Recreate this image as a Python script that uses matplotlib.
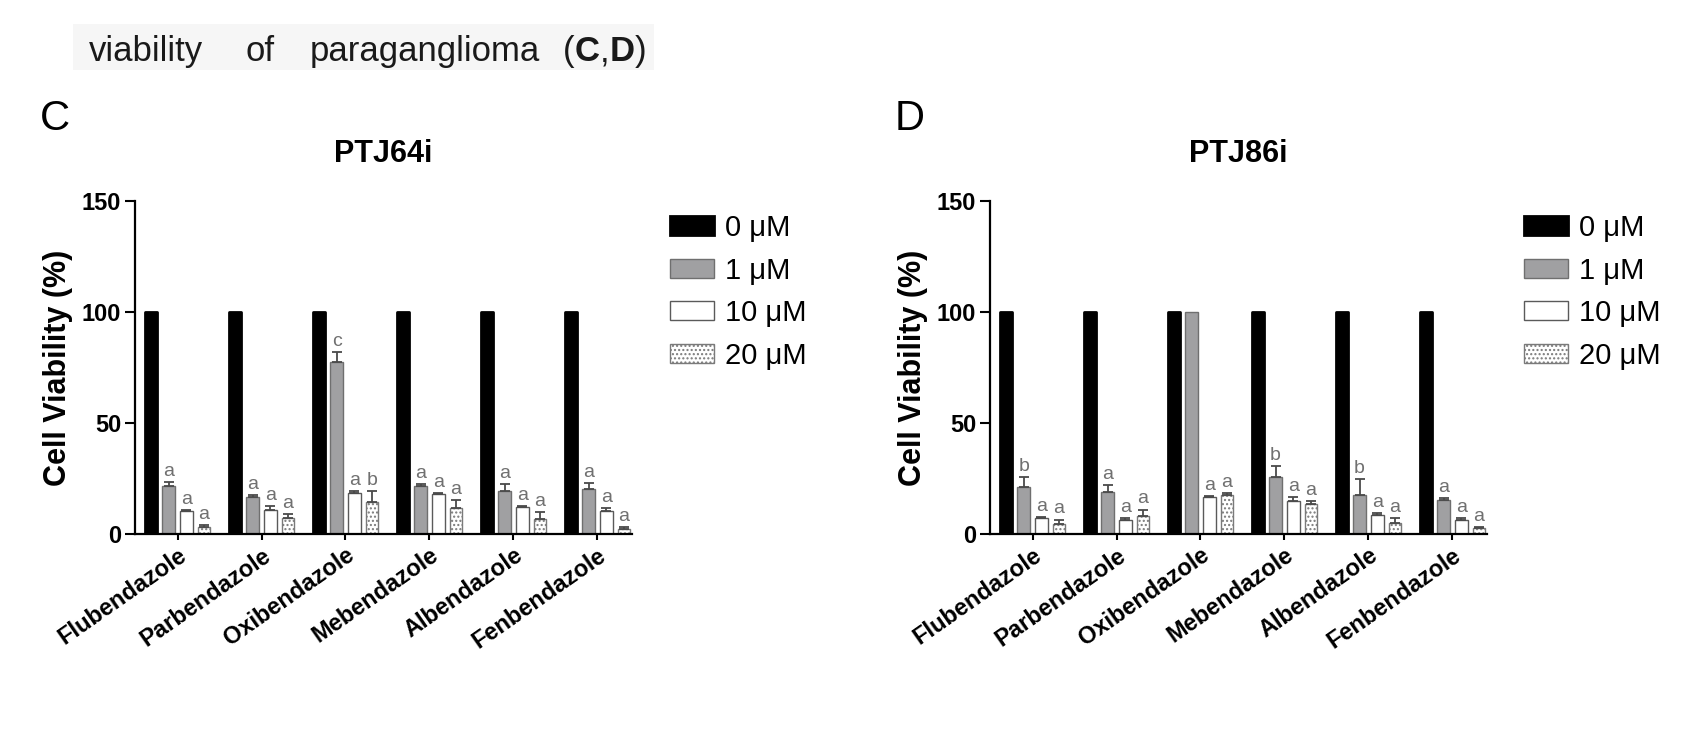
import numpy as np
import matplotlib.pyplot as plt
from matplotlib.patches import Rectangle, Patch

plt.rcParams['font.family'] = ['Liberation Sans', 'DejaVu Sans']
plt.rcParams['hatch.linewidth'] = 1.0

W, H = 1695, 740

drugs = ["Flubendazole", "Parbendazole", "Oxibendazole", "Mebendazole", "Albendazole", "Fenbendazole"]
doses = ["0 \u03bcM", "1 \u03bcM", "10 \u03bcM", "20 \u03bcM"]

# === PTJ64i (panel C) ===
c_0 = [100, 100, 100, 100, 100, 100]
c_1 = [21.7, 16.8, 77.3, 21.4, 19.2, 20.2]
c_10 = [10.2, 11.0, 18.5, 17.8, 12.0, 10.2]
c_20 = [3.2, 7.0, 14.5, 11.5, 6.8, 2.4]
c_1_err = [1.5, 0.8, 4.8, 0.9, 3.2, 2.6]
c_10_err = [0.7, 1.5, 0.8, 0.7, 0.5, 1.5]
c_20_err = [0.8, 2.0, 4.9, 4.0, 3.0, 0.6]
c_1_let = ["a", "a", "c", "a", "a", "a"]
c_10_let = ["a", "a", "a", "a", "a", "a"]
c_20_let = ["a", "a", "b", "a", "a", "a"]

# === PTJ86i (panel D) ===
d_0 = [100, 100, 100, 100, 100, 100]
d_1 = [21.0, 18.8, 100, 25.5, 17.6, 15.5]
d_10 = [7.0, 6.5, 16.8, 14.9, 8.5, 6.3]
d_20 = [4.5, 8.0, 17.6, 13.4, 5.0, 2.5]
d_1_err = [4.8, 3.3, 0, 5.1, 7.0, 0.6]
d_10_err = [0.5, 0.5, 0.4, 1.9, 1.0, 1.0]
d_20_err = [2.0, 3.0, 0.7, 1.5, 2.0, 0.5]
d_1_let = ["b", "a", "", "b", "b", "a"]
d_10_let = ["a", "a", "a", "a", "a", "a"]
d_20_let = ["a", "a", "a", "a", "a", "a"]

GREY = "#a0a0a2"
EDGE = "#5a5a5a"
LET_COL = "#707070"

styles = [
    dict(color="black", edgecolor="black", linewidth=2.0, joinstyle="round"),
    dict(color=GREY, edgecolor="#6f6f6f", linewidth=1.0),
    dict(color="white", edgecolor=EDGE, linewidth=1.0),
    dict(color="white", edgecolor="#7a7a7a", linewidth=1.0, hatch="...."),
]

off = 0.211
width = 0.15


def fx(px):
    return px / W


def fy(py):
    return 1 - py / H


def draw_panel(ax, vals, errs, lets, title):
    x = np.arange(len(drugs))
    for i, v in enumerate(vals):
        xs = x + i * off
        ax.bar(xs, v, width, zorder=2, **styles[i])
        if errs[i] is None:
            continue
        for xx, vv, ee, lab in zip(xs, v, errs[i], lets[i]):
            if ee > 0:
                ax.errorbar(xx, vv, yerr=[[0], [ee]], fmt="none", ecolor="#4a4a4a",
                            elinewidth=1.3, capsize=3.5, capthick=1.3, zorder=3)
            if lab:
                ax.annotate(lab, (xx, vv + ee), xytext=(0, 1.5), textcoords="offset points",
                            ha="center", va="bottom", fontsize=14, color=LET_COL)
    ax.set_xlim(-0.19, 5 + 3 * off + width / 2 + 0.02)
    ax.set_ylim(0, 150)
    ax.set_yticks([0, 50, 100, 150])
    ax.set_xticks(x + 1.5 * off)
    ax.set_xticklabels(drugs, rotation=35, ha="right", va="top", rotation_mode="anchor",
                       fontsize=17, fontweight="bold")
    for lab in ax.get_yticklabels():
        lab.set_fontweight("bold")
    ax.tick_params(axis="y", labelsize=17, length=7, width=1.5, pad=3)
    ax.tick_params(axis="x", length=4, width=1.5, pad=3)
    for s in ["top", "right"]:
        ax.spines[s].set_visible(False)
    for s in ["left", "bottom"]:
        ax.spines[s].set_linewidth(1.6)
    ax.set_ylabel("Cell Viability (%)", fontsize=22, fontweight="bold")
    ax.yaxis.set_label_coords(-0.125, 0.5)
    ax.set_title(title, fontsize=22, fontweight="bold", pad=28)


fig = plt.figure(figsize=(W / 100, H / 100), dpi=100)

# caption strip at the top
fig.patches.append(Rectangle((fx(73), fy(70)), fx(654) - fx(73), fy(24) - fy(70),
                             transform=fig.transFigure, facecolor="#f6f6f6", edgecolor="none"))
cap_y = fy(61)
cap_kw = dict(fontsize=25, color="#1a1a1a", va="baseline", ha="left")
fig.text(fx(89), cap_y, "viability", **cap_kw)
fig.text(fx(245), cap_y, "of", **cap_kw)
fig.text(fx(310), cap_y, "paraganglioma", **cap_kw)
fig.text(fx(563), cap_y, "(", **cap_kw)
fig.text(fx(575), cap_y, "C", fontweight="bold", **cap_kw)
fig.text(fx(600), cap_y, ",", **cap_kw)
fig.text(fx(610), cap_y, "D", fontweight="bold", **cap_kw)
fig.text(fx(635), cap_y, ")", **cap_kw)

ax_c = fig.add_axes([fx(135), fy(534), fx(632) - fx(135), fy(201) - fy(534)])
ax_d = fig.add_axes([fx(990), fy(534), fx(1487) - fx(990), fy(201) - fy(534)])

draw_panel(ax_c, [c_0, c_1, c_10, c_20], [None, c_1_err, c_10_err, c_20_err],
           [None, c_1_let, c_10_let, c_20_let], "PTJ64i")
draw_panel(ax_d, [d_0, d_1, d_10, d_20], [None, d_1_err, d_10_err, d_20_err],
           [None, d_1_let, d_10_let, d_20_let], "PTJ86i")

fig.text(fx(40), fy(130), "C", fontsize=30, va="baseline", ha="left")
fig.text(fx(895), fy(130), "D", fontsize=30, va="baseline", ha="left")

handles = [Patch(facecolor=s["color"], edgecolor=s["edgecolor"], linewidth=s["linewidth"],
                 hatch=s.get("hatch")) for s in styles]
for lx in [670, 1524]:
    fig.legend(handles, doses, loc="upper left", bbox_to_anchor=(fx(lx), fy(214)),
               frameon=False, fontsize=21, handlelength=1.5, handleheight=0.62,
               labelspacing=0.5, handletextpad=0.4, borderpad=0, borderaxespad=0)

fig.savefig("out.png", dpi=100)
